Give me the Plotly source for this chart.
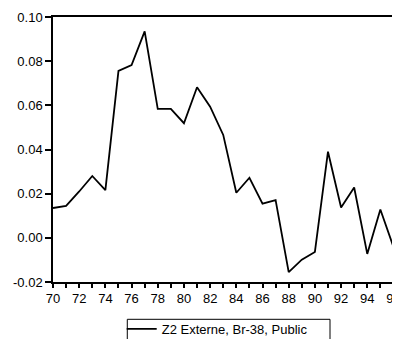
import plotly.graph_objects as go

years = list(range(70, 98))
values = [0.0135, 0.0145, 0.021, 0.028, 0.0216, 0.0756, 0.0782, 0.0935, 0.0584, 0.0584,
          0.0519, 0.0682, 0.0594, 0.0466, 0.0204, 0.0272, 0.0155, 0.0171, -0.0155, -0.0099,
          -0.0064, 0.039, 0.0137, 0.0228, -0.0073, 0.0128, -0.0041, -0.018]
series_name = "Z2 Externe, Br-38, Public"
x_ticks = list(range(70, 98, 2))
x_ticklabels = [str(v) for v in x_ticks]
y_ticks = [-0.02, 0.00, 0.02, 0.04, 0.06, 0.08, 0.10]
y_ticklabels = ["-0.02", "0.00", "0.02", "0.04", "0.06", "0.08", "0.10"]

fig = go.Figure()
fig.add_trace(go.Scatter(x=years, y=values, mode="lines", name=series_name,
                         line=dict(color="black", width=1.8)))

font = dict(family="Liberation Sans, Arial, sans-serif", size=13, color="black")
# page body has an 8px default margin: size the figure to fit the window
fig.update_layout(
    width=392, height=331,
    margin=dict(l=45, r=0, t=9, b=57),
    paper_bgcolor="white", plot_bgcolor="white",
    font=font,
    showlegend=True,
    legend=dict(orientation="h", xref="paper", x=0.198, xanchor="left",
                yref="container", y=0.0755, yanchor="top",
                borderwidth=0, bgcolor="rgba(0,0,0,0)",
                itemwidth=30, font=font, tracegroupgap=0),
    shapes=[dict(type="rect", xref="paper", yref="paper",
                 x0=0.2141, x1=0.7983, y0=-0.1408, y1=-0.26,
                 line=dict(color="black", width=1), fillcolor="rgba(0,0,0,0)",
                 layer="above")],
)
fig.update_xaxes(range=[70, 96.5], tickmode="array", tickvals=x_ticks,
                 ticktext=x_ticklabels, ticklabeloverflow="allow",
                 ticks="outside", ticklen=4, tickwidth=1.5, tickcolor="black",
                 showline=True, linecolor="black", linewidth=1.5, mirror=True,
                 showgrid=False, zeroline=False,
                 minor=dict(dtick=1, tick0=70, ticks="outside", ticklen=4,
                            tickwidth=1.5, tickcolor="black", showgrid=False))
fig.update_yaxes(range=[-0.02, 0.10], tickmode="array", tickvals=y_ticks,
                 ticktext=y_ticklabels,
                 ticks="outside", ticklen=6, tickwidth=1.5, tickcolor="black",
                 showline=True, linecolor="black", linewidth=1.5,
                 showgrid=False, zeroline=False)

fig.write_html("out.html")
